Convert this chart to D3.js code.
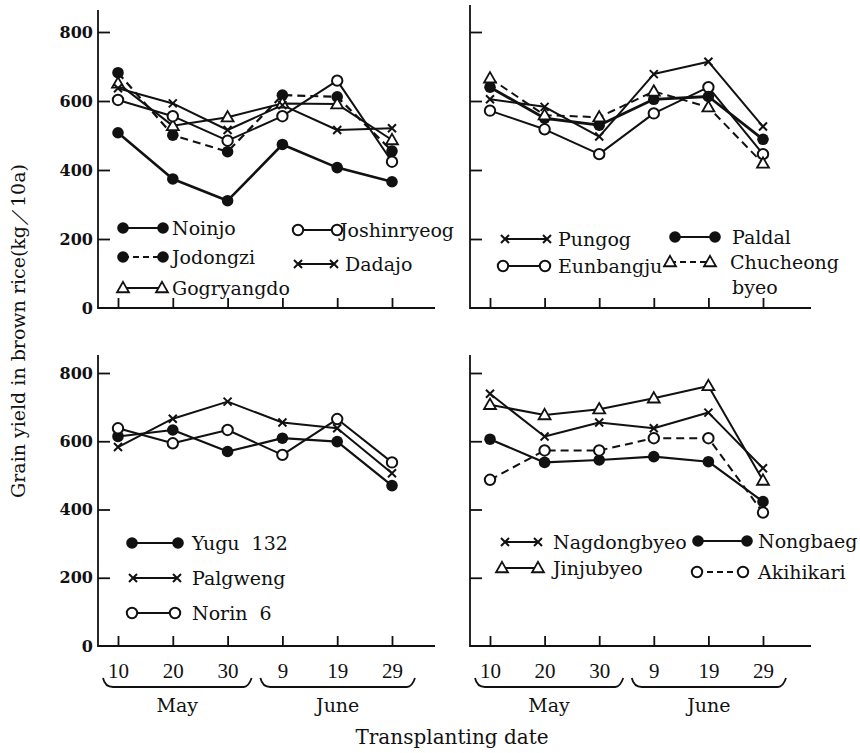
<!DOCTYPE html>
<html>
<head>
<meta charset="utf-8">
<script src="https://cdn.jsdelivr.net/npm/d3@7"></script>
<style>
  html, body { margin: 0; padding: 0; background: #fff; }
  svg { display: block; }
  text { fill: #111; }
</style>
</head>
<body>
<script>
'use strict';

// transplanting dates (May 10 .. June 29) and month groups
var dates = ['10', '20', '30', '9', '19', '29'];
var months = ['May', 'June'];
var yTicks = [0, 200, 400, 600, 800];

// grain yield, kg/10a -- upper left group
var noinjo = [508, 374, 311, 474, 407, 366];
var jodongzi = [682, 501, 453, 617, 612, 455];
var joshinryeog = [603, 556, 485, 556, 659, 424];
var dadajo = [637, 593, 516, 588, 516, 521];
var gogryangdo = [651, 528, 553, 593, 591, 487];

// upper right group
var pungog = [605, 583, 497, 678, 714, 526];
var paldal = [640, 550, 530, 605, 613, 489];
var eunbangju = [572, 518, 446, 564, 640, 446];
var chucheong = [666, 559, 553, 628, 582, 419];

// lower left group
var yugu132 = [614, 633, 570, 609, 599, 470];
var palgweng = [583, 666, 716, 655, 638, 506];
var norin6 = [638, 594, 633, 560, 665, 538];

// lower right group
var nagdongbyeo = [739, 614, 655, 638, 684, 521];
var jinjubyeo = [707, 677, 694, 726, 762, 485];
var nongbaeg = [606, 538, 545, 555, 540, 423];
var akihikari = [487, 573, 573, 609, 609, 391];

var W = 860, H = 753;
var serif = '"DejaVu Serif", serif';
var times = '"Liberation Serif", "Times New Roman", serif';

// panel frames; leg = [line start x, line end x, text x, y]
var panels = [
  { left: 98, right: 435, top: 10, bottom: 308, y800: 32, xs: [118, 392], labels: true, dates: false,
    series: [
      { name: 'Noinjo', values: noinjo, mark: 'dot', dash: null, width: 2.6, leg: [123, 163, 172, 228] },
      { name: 'Jodongzi', values: jodongzi, mark: 'dot', dash: '8,5', width: 2.2, leg: [123, 163, 172, 257] },
      { name: 'Gogryangdo', values: gogryangdo, mark: 'tri', dash: null, width: 2, leg: [123, 162, 172, 288] },
      { name: 'Joshinryeog', values: joshinryeog, mark: 'ring', dash: null, width: 2, leg: [298, 337, 340, 230] },
      { name: 'Dadajo', values: dadajo, mark: 'cross', dash: null, width: 2, leg: [298, 334, 345, 264] }
    ] },
  { left: 470, right: 811, top: 5, bottom: 308, y800: 32, xs: [490, 763], labels: false, dates: false,
    series: [
      { name: 'Pungog', values: pungog, mark: 'cross', dash: null, width: 2, leg: [505, 547, 558, 239] },
      { name: 'Eunbangju', values: eunbangju, mark: 'ring', dash: null, width: 2, leg: [503, 545, 558, 266] },
      { name: 'Paldal', values: paldal, mark: 'dot', dash: null, width: 2.8, leg: [675, 715, 732, 237] },
      { name: ['Chucheong', 'byeo'], values: chucheong, mark: 'tri', dash: '8,5', width: 2, leg: [670, 710, 730, 262] }
    ] },
  { left: 98, right: 435, top: 355, bottom: 646, y800: 373, xs: [118, 392], labels: true, dates: true,
    series: [
      { name: 'Yugu  132', values: yugu132, mark: 'dot', dash: null, width: 2.2, leg: [132, 178, 192, 543] },
      { name: 'Palgweng', values: palgweng, mark: 'cross', dash: null, width: 2, leg: [133, 177, 192, 578] },
      { name: 'Norin  6', values: norin6, mark: 'ring', dash: null, width: 2, leg: [132, 175, 192, 613] }
    ] },
  { left: 470, right: 811, top: 355, bottom: 646, y800: 373, xs: [490, 763], labels: false, dates: true,
    series: [
      { name: 'Nagdongbyeo', values: nagdongbyeo, mark: 'cross', dash: null, width: 2, leg: [505, 538, 553, 542] },
      { name: 'Jinjubyeo', values: jinjubyeo, mark: 'tri', dash: null, width: 2, leg: [502, 538, 553, 568] },
      { name: 'Nongbaeg', values: nongbaeg, mark: 'dot', dash: null, width: 2.2, leg: [698, 747, 758, 541] },
      { name: 'Akihikari', values: akihikari, mark: 'ring', dash: '8,5', width: 2, leg: [697, 743, 758, 572] }
    ] }
];

var svg = d3.select('body').append('svg')
  .attr('width', W).attr('height', H)
  .attr('font-family', serif);

svg.append('rect').attr('width', W).attr('height', H).attr('fill', '#fff');

// draw one marker symbol into a group
function marker(g, type, cx, cy) {
  if (type === 'dot') {
    g.append('circle').attr('cx', cx).attr('cy', cy).attr('r', 5.8).attr('fill', '#111');
  } else if (type === 'ring') {
    g.append('circle').attr('cx', cx).attr('cy', cy).attr('r', 5.2)
      .attr('fill', '#fff').attr('stroke', '#111').attr('stroke-width', 2);
  } else if (type === 'tri') {
    g.append('path').attr('d', d3.symbol(d3.symbolTriangle, 62)())
      .attr('transform', 'translate(' + cx + ',' + (cy + 0.8) + ')')
      .attr('fill', '#fff').attr('stroke', '#111').attr('stroke-width', 1.8);
  } else {
    g.append('path').attr('d', 'M-4,-4L4,4M-4,4L4,-4')
      .attr('transform', 'translate(' + cx + ',' + cy + ')')
      .attr('fill', 'none').attr('stroke', '#111').attr('stroke-width', 2);
  }
}

panels.forEach(function(p) {
  var x = d3.scalePoint().domain(dates).range(p.xs);
  var y = d3.scaleLinear().domain([0, 800]).range([p.bottom, p.y800]);
  var g = svg.append('g');

  // axis lines
  g.append('path')
    .attr('d', 'M' + p.left + ',' + p.top + 'V' + p.bottom + 'H' + p.right)
    .attr('fill', 'none').attr('stroke', '#111').attr('stroke-width', 1.8);

  // y ticks point inward
  var yAxis = d3.axisLeft(y).tickValues(yTicks).tickSizeInner(-12).tickSizeOuter(0).tickPadding(5)
    .tickFormat(p.labels ? d3.format('d') : function() { return ''; });
  var ya = g.append('g').attr('transform', 'translate(' + p.left + ',0)').call(yAxis);
  ya.select('.domain').remove();
  ya.selectAll('.tick line').attr('stroke', '#111').attr('stroke-width', 1.8);
  ya.selectAll('.tick').filter(function(d) { return d === 0; }).select('line').remove();
  ya.selectAll('.tick text').attr('font-family', serif).attr('font-weight', 'bold')
    .attr('font-size', 16).attr('fill', '#111');

  // x ticks point upward
  var xAxis = d3.axisBottom(x).tickSizeInner(-10).tickSizeOuter(0).tickPadding(20)
    .tickFormat(p.dates ? null : function() { return ''; });
  var xa = g.append('g').attr('transform', 'translate(0,' + p.bottom + ')').call(xAxis);
  xa.select('.domain').remove();
  xa.selectAll('.tick line').attr('stroke', '#111').attr('stroke-width', 1.8);
  xa.selectAll('.tick text').attr('font-family', times).attr('font-size', 21)
    .attr('fill', '#111').attr('dy', '0.55em');

  // braces and month names under the dates
  if (p.dates) {
    var spans = [[x(dates[0]) - 15, x(dates[2]) + 24], [x(dates[3]) - 22, x(dates[5]) + 23]];
    var by = p.bottom + 41;
    spans.forEach(function(s, i) {
      g.append('path')
        .attr('d', 'M' + s[0] + ',' + (by - 9) + 'Q' + (s[0] + 2) + ',' + by + ' ' + (s[0] + 10) + ',' + by +
          'L' + (s[1] - 8) + ',' + by + 'Q' + (s[1] - 3) + ',' + by + ' ' + s[1] + ',' + (by - 9))
        .attr('fill', 'none').attr('stroke', '#111').attr('stroke-width', 1.8);
      g.append('text').attr('x', (s[0] + s[1]) / 2).attr('y', p.bottom + 66)
        .attr('text-anchor', 'middle').attr('font-size', 19).text(months[i]);
    });
  }

  // series lines then markers
  var line = d3.line().x(function(d, i) { return x(dates[i]); }).y(function(d) { return y(d); });
  p.series.forEach(function(s) {
    g.append('path').datum(s.values).attr('d', line)
      .attr('fill', 'none').attr('stroke', '#111').attr('stroke-width', s.width)
      .attr('stroke-dasharray', s.dash).attr('stroke-linejoin', 'round');
  });
  p.series.forEach(function(s) {
    var mg = g.append('g');
    s.values.forEach(function(v, i) { marker(mg, s.mark, x(dates[i]), y(v)); });
  });

  // legend
  p.series.forEach(function(s) {
    var l = s.leg, lg = g.append('g');
    lg.append('line').attr('x1', l[0]).attr('x2', l[1]).attr('y1', l[3]).attr('y2', l[3])
      .attr('stroke', '#111').attr('stroke-width', 2).attr('stroke-dasharray', s.dash ? '6,4' : null);
    marker(lg, s.mark, l[0], l[3]);
    marker(lg, s.mark, l[1], l[3]);
    var t = lg.append('text').attr('x', l[2]).attr('y', l[3]).attr('dy', '0.36em')
      .attr('font-size', 19).style('white-space', 'pre');
    if (Array.isArray(s.name)) {
      t.attr('dy', null).attr('y', l[3] + 7);
      t.append('tspan').attr('x', l[2]).text(s.name[0]);
      t.append('tspan').attr('x', l[2] + 2).attr('dy', 25).text(s.name[1]);
    } else {
      t.text(s.name);
    }
  });
});

// axis titles
svg.append('text')
  .attr('transform', 'translate(18,331) rotate(-90)')
  .attr('text-anchor', 'middle').attr('dy', '0.35em')
  .attr('font-size', 19)
  .text('Grain yield in brown rice(kg／10a)');

svg.append('text')
  .attr('x', 452).attr('y', 744)
  .attr('text-anchor', 'middle').attr('font-size', 20)
  .text('Transplanting date');
</script>
</body>
</html>
